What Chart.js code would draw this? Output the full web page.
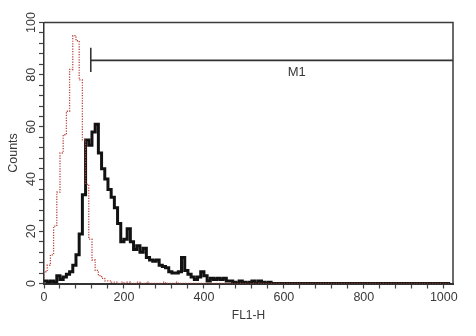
<!DOCTYPE html>
<html><head><meta charset="utf-8">
<script src="https://cdn.jsdelivr.net/npm/chart.js@4"></script>
<style>html,body{margin:0;padding:0;background:#fff}#wrap{width:476px;height:336px}</style>
</head><body><div id="wrap"><canvas id="c" width="476" height="336"></canvas></div>
<script>
// FL1-H channel (start of each 8-channel bin)
const channels = [0,8,16,24,32,40,48,56,64,72,80,88,96,104,112,120,128,136,144,152,160,168,176,184,192,200,208,216,224,232,240,248,256,264,272,280,288,296,304,312,320,328,336,344,352,360,368,376,384,392,400,408,416,424,432,440,448,456,464,472,480,488,496,504,512,520,528,536,544,552,560,568,576,584,592,600,1016];
// stained sample (black, solid)
const sampleCounts = [0.5,1,0.5,1,0.5,3,1.5,2.5,3.5,4.5,7,11,19,34,55,53,58,61,50,44,40,36,33,29,23,16,17,21,16,13,14.5,12,13.5,10,9,8.5,9,7,6.5,6,4.5,4,4,4.5,10,5,3.5,2.5,1.5,2.5,4.5,3,1,2,1.5,2,1.5,2,1,1,0.5,0,1,0.5,0,0.5,1,0,1,0.5,0,0.5,0,0,0,0,0];
// control (red, dotted)
const controlCounts = [2,4.5,7,11,22,35,50,57,66,82,95,93,78,55,38,17,9,5,3,2,1,1,0.5,0.5,0,0.5,0,0.5,0,0,0.5,0,0,0.5,0,0,0,0,0.5,0,0,0,0.5,0,0,0,0,0,0,0,0,0,0,0,0,0,0,0,0,0,0,0,0,0,0,0,0,0,0,0,0,0,0,0,0,0,0];
const xTickLabels = [0,200,400,600,800,1000];
const yTickLabels = [0,20,40,60,80,100];
const xMinorStep = 40;
const yMinorStep = 4;
const gateM1 = [117, 1023];
const gateM1Level = 85.5;
const gateM1Label = 'M1';
const gateM1LabelPos = [632, 81];

const FONT = '"Liberation Sans", Arial, sans-serif';
const TXT = '#3a3a3a';

const framePlugin = {
  id: 'frame',
  afterDraw(chart) {
    const {ctx, chartArea: a, scales: {x, y}} = chart;
    ctx.save();
    // top and right frame
    ctx.strokeStyle = '#3a3a3a';
    ctx.lineWidth = 1.5;
    ctx.beginPath();
    ctx.moveTo(a.left, a.top); ctx.lineTo(a.right, a.top); ctx.lineTo(a.right, a.bottom);
    ctx.stroke();
    // M1 gate
    const gx0 = x.getPixelForValue(gateM1[0]);
    const gx1 = x.getPixelForValue(gateM1[1]);
    const gy = y.getPixelForValue(gateM1Level);
    ctx.lineWidth = 1.6;
    ctx.strokeStyle = '#333';
    ctx.beginPath();
    ctx.moveTo(gx0, gy); ctx.lineTo(gx1, gy);
    ctx.moveTo(gx0, y.getPixelForValue(gateM1Level + 4.8));
    ctx.lineTo(gx0, y.getPixelForValue(gateM1Level - 4.5));
    ctx.stroke();
    ctx.fillStyle = TXT;
    ctx.font = '13px ' + FONT;
    ctx.textAlign = 'center'; ctx.textBaseline = 'middle';
    ctx.fillText(gateM1Label, x.getPixelForValue(gateM1LabelPos[0]), y.getPixelForValue(gateM1LabelPos[1]));
    // rotated y tick labels
    ctx.font = '12.5px ' + FONT;
    yTickLabels.forEach(v => {
      ctx.save();
      ctx.translate(31.5, y.getPixelForValue(v));
      ctx.rotate(-Math.PI / 2);
      ctx.fillText(String(v), 0, 0);
      ctx.restore();
    });
    ctx.restore();
  }
};

const pts = arr => channels.map((c, i) => ({x: c, y: arr[i]}));

new Chart(document.getElementById('c'), {
  type: 'line',
  data: {
    datasets: [
      {label: 'control', data: pts(controlCounts), borderColor: '#b8433c', borderWidth: 1.3,
       borderDash: [1.2, 1.4], stepped: 'after', pointRadius: 0, fill: false, order: 0},
      {label: 'sample', data: pts(sampleCounts), borderColor: '#121212', borderWidth: 3,
       stepped: 'after', pointRadius: 0, fill: false, order: 1, borderJoinStyle: 'miter'}
    ]
  },
  options: {
    responsive: false,
    animation: false,
    events: [],
    layout: {padding: {left: 0, top: 22.5, right: 23, bottom: 0}},
    plugins: {legend: {display: false}, tooltip: {enabled: false}},
    scales: {
      x: {
        type: 'linear', min: 0, max: 1023,
        afterBuildTicks(s) {
          const t = [];
          for (let v = 0; v <= 1000; v += xMinorStep) t.push({value: v});
          s.ticks = t;
        },
        afterFit(s) { s.height = 52.5; },
        ticks: {
          autoSkip: false, maxRotation: 0, minRotation: 0, padding: 2,
          color: TXT, font: {family: FONT, size: 12.5},
          callback: v => xTickLabels.includes(v) ? String(v) : ''
        },
        grid: {drawOnChartArea: false, drawTicks: true, tickLength: 5, tickColor: '#444', tickWidth: 1.2},
        border: {display: true, color: '#333', width: 2},
        title: {display: true, text: 'FL1-H', color: TXT, font: {family: FONT, size: 12}, padding: {top: 0, bottom: 12.8}}
      },
      y: {
        type: 'linear', min: 0, max: 100,
        afterBuildTicks(s) {
          const t = [];
          for (let v = 0; v <= 100; v += yMinorStep) t.push({value: v});
          s.ticks = t;
        },
        afterFit(s) { s.width = 44; },
        ticks: {display: false},
        grid: {drawOnChartArea: false, drawTicks: true, tickLength: 5, tickColor: '#444', tickWidth: 1.2},
        border: {display: true, color: '#333', width: 1.5},
        title: {display: true, text: 'Counts', color: TXT, font: {family: FONT, size: 12.5}, padding: {top: 6.5, bottom: 0}}
      }
    }
  },
  plugins: [framePlugin]
});
</script>
</body></html>
